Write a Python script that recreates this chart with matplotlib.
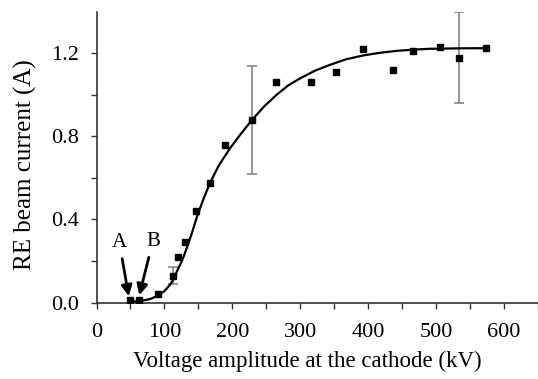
import matplotlib
matplotlib.use("Agg")
import matplotlib.pyplot as plt
import numpy as np

plt.rcParams['font.family'] = ['Liberation Serif', 'DejaVu Serif']

# measured points
voltage = [50, 63, 91, 112, 120, 130, 147, 167, 189, 229, 264, 316, 352, 392, 437, 466, 506, 534, 573]
current = [0.01, 0.012, 0.041, 0.13, 0.22, 0.29, 0.44, 0.575, 0.76, 0.88, 1.06, 1.06, 1.11, 1.22, 1.12, 1.21, 1.23, 1.18, 1.225]

# points that carry error bars
err_voltage = [112, 229, 534]
err_current = [0.13, 0.88, 1.18]
err_size = [0.043, 0.26, 0.22]

# fitted curve
curve_v = [48, 56, 64, 72, 80, 91, 100, 108, 114, 119, 125, 130, 135, 140, 147.6, 157, 167, 180, 197,
           212, 229, 247, 265, 282, 300, 322, 344, 368, 393, 418, 442, 467, 491, 530, 573]
curve_i = [0.002, 0.005, 0.008, 0.012, 0.018, 0.034, 0.055, 0.085, 0.115, 0.155, 0.195, 0.236, 0.283, 0.33, 0.41,
           0.495, 0.575, 0.66, 0.745, 0.81, 0.88, 0.945, 1.0, 1.045, 1.08, 1.117, 1.145, 1.172, 1.19,
           1.203, 1.212, 1.218, 1.222, 1.224, 1.225]

fig = plt.figure(figsize=(5.38, 3.79), dpi=100)
ax = fig.add_axes([0.1794, 0.2018, 0.8206, 0.767])

ax.plot(curve_v, curve_i, color='black', lw=1.6, zorder=3)
ax.errorbar(err_voltage, err_current, yerr=err_size, fmt='none', ecolor='#7a7a7a',
            elinewidth=1.1, capsize=3.5, capthick=1.1, zorder=2)
ax.plot(voltage, current, 's', color='black', markersize=4.8, zorder=4)

# A / B arrows
arrow = dict(arrowstyle='-|>', color='black', lw=2.0, mutation_scale=16, shrinkA=3, shrinkB=0)
ax.annotate('A', xy=(47.5, 0.03), xytext=(33.5, 0.29), ha='center', va='center', fontsize=15, arrowprops=arrow)
ax.annotate('B', xy=(63, 0.035), xytext=(83, 0.296), ha='center', va='center', fontsize=15, arrowprops=arrow)

ax.set_xlim(0, 650)
ax.set_ylim(0, 1.4)
ax.set_xticks(np.arange(0, 601, 100))
ax.set_xticks(np.arange(0, 651, 50), minor=True)
ax.set_yticks([0.0, 0.4, 0.8, 1.2])
ax.set_yticks([0.2, 0.6, 1.0], minor=True)
ax.set_yticklabels(['0.0', '0.4', '0.8', '1.2'])

for s in ['top', 'right']:
    ax.spines[s].set_visible(False)
for s in ['left', 'bottom']:
    ax.spines[s].set_color('#333333')
    ax.spines[s].set_linewidth(1.2)

ax.tick_params(which='both', direction='out', length=4.5, width=1.0, color='#333333', labelsize=16)
ax.tick_params(axis='x', which='major', pad=10)
ax.tick_params(axis='y', which='major', pad=8)
ax.set_xlabel('Voltage amplitude at the cathode (kV)', fontsize=16.5)
ax.set_ylabel('RE beam current (A)', fontsize=18)
ax.xaxis.set_label_coords(0.477, -0.165)
ax.yaxis.set_label_coords(-0.135, 0.473)

fig.savefig('out.png', dpi=100)
